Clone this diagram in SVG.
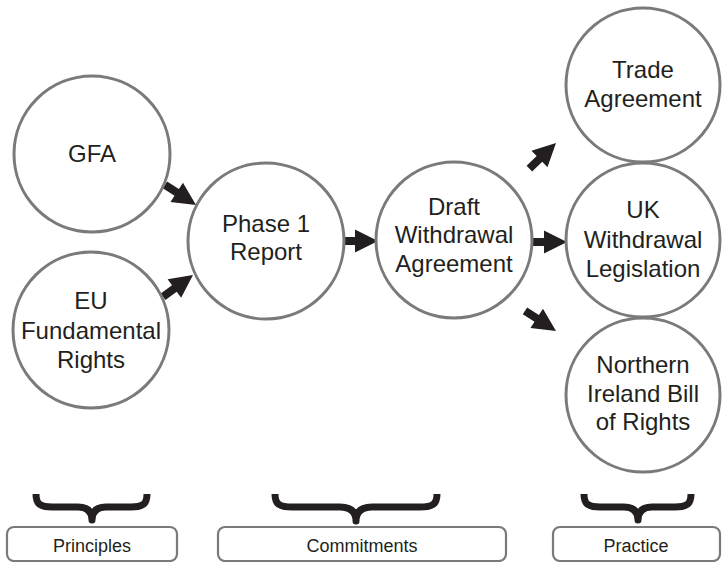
<svg xmlns="http://www.w3.org/2000/svg" width="722" height="562" viewBox="0 0 722 562">
  <style>
    .node { fill: #ffffff; stroke: #7a7a7c; stroke-width: 3; }
    .lbl { font-family: "Liberation Sans", Arial, Helvetica, sans-serif; font-size: 24px; fill: #231f20; text-anchor: middle; }
    .box { fill: #ffffff; stroke: #7a7a7c; stroke-width: 2.2; }
    .boxlbl { font-family: "Liberation Sans", Arial, Helvetica, sans-serif; font-size: 18px; fill: #231f20; text-anchor: middle; }
    .brace { fill: none; stroke: #231f20; stroke-width: 7; stroke-linejoin: round; stroke-linecap: butt; }
    .arrow { fill: #231f20; }
  </style>
  <defs>
    <polygon id="arr" class="arrow" points="-37,-4 -23,-4 -23,-11.5 0,0 -23,11.5 -23,4 -37,4"/>
  </defs>
  <rect width="722" height="562" fill="#ffffff"/>

  <g id="connectors">
    <use href="#arr" transform="translate(196,205) rotate(33)"/>
    <use href="#arr" transform="translate(193,275) rotate(-36)"/>
    <use href="#arr" transform="translate(378,241)"/>
    <use href="#arr" transform="translate(556,143) rotate(-44)"/>
    <use href="#arr" transform="translate(567,242)"/>
    <use href="#arr" transform="translate(556,331) rotate(33)"/>
  </g>

  <g id="gfa">
    <circle class="node" cx="92" cy="154" r="78"/>
    <text class="lbl" x="92" y="162">GFA</text>
  </g>
  <g id="eu-rights">
    <circle class="node" cx="91" cy="330" r="78"/>
    <text class="lbl" x="91" y="309">EU</text>
    <text class="lbl" x="91" y="339">Fundamental</text>
    <text class="lbl" x="91" y="368">Rights</text>
  </g>
  <g id="phase1">
    <circle class="node" cx="266" cy="241" r="78"/>
    <text class="lbl" x="266" y="232">Phase 1</text>
    <text class="lbl" x="266" y="260">Report</text>
  </g>
  <g id="draft">
    <circle class="node" cx="454" cy="240" r="78"/>
    <text class="lbl" x="454" y="215">Draft</text>
    <text class="lbl" x="454" y="243">Withdrawal</text>
    <text class="lbl" x="454" y="272">Agreement</text>
  </g>
  <g id="trade">
    <circle class="node" cx="643" cy="85" r="77"/>
    <text class="lbl" x="643" y="78">Trade</text>
    <text class="lbl" x="643" y="107">Agreement</text>
  </g>
  <g id="uk-legislation">
    <circle class="node" cx="643" cy="240" r="77"/>
    <text class="lbl" x="643" y="218">UK</text>
    <text class="lbl" x="643" y="248">Withdrawal</text>
    <text class="lbl" x="643" y="277">Legislation</text>
  </g>
  <g id="ni-bill">
    <circle class="node" cx="643" cy="395" r="77"/>
    <text class="lbl" x="643" y="373">Northern</text>
    <text class="lbl" x="643" y="402">Ireland Bill</text>
    <text class="lbl" x="643" y="430">of Rights</text>
  </g>

  <g id="principles">
    <path class="brace" d="M36,494 C36,504 40,507 52,507 L78,507 C88,507 92,512 92,520 C92,512 96,507 106,507 L131,507 C143,507 147,504 147,494"/>
    <rect class="box" x="7" y="527" width="170" height="34" rx="7"/>
    <text class="boxlbl" x="92" y="552">Principles</text>
  </g>
  <g id="commitments">
    <path class="brace" d="M275,494 C275,504 279,507 292,507 L340,507 C351,507 356,512 356,521 C356,512 361,507 372,507 L420,507 C433,507 437,504 437,494"/>
    <rect class="box" x="218" y="527" width="288" height="34" rx="7"/>
    <text class="boxlbl" x="362" y="552">Commitments</text>
  </g>
  <g id="practice">
    <path class="brace" d="M584,494 C584,504 588,507 600,507 L624,507 C634,507 638,512 638,520 C638,512 642,507 652,507 L675,507 C687,507 691,504 691,494"/>
    <rect class="box" x="553" y="527" width="167" height="34" rx="7"/>
    <text class="boxlbl" x="636" y="552">Practice</text>
  </g>
</svg>
